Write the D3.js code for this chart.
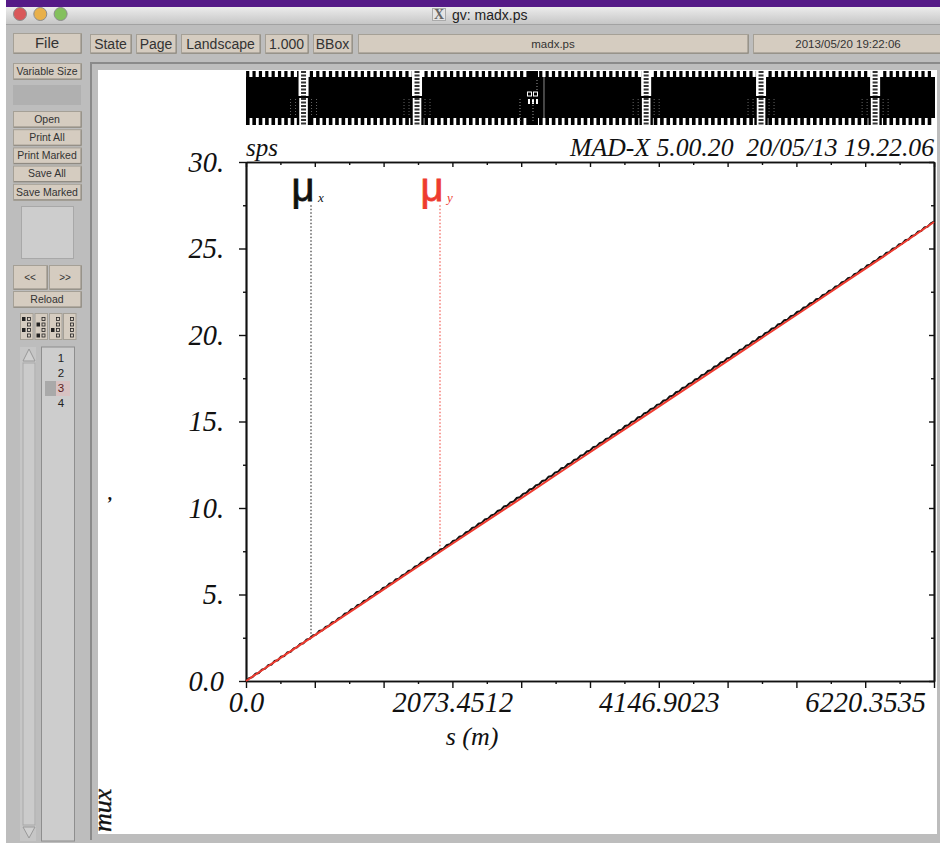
<!DOCTYPE html>
<html>
<head>
<meta charset="utf-8">
<title>gv: madx.ps</title>
<script src="https://cdn.jsdelivr.net/npm/d3@7"></script>
<style>
  html, body { margin: 0; padding: 0; background: #fff; }
  svg { display: block; }
  .ui { font-family: "Liberation Sans", sans-serif; fill: #333; text-anchor: middle; }
  .ps { font-family: "Liberation Serif", serif; font-style: italic; fill: #111; }
</style>
</head>
<body>
<div id="chart"></div>
<script>
// -------------------- DATA --------------------

const sMax = 6911.5;
const sStep = 32; // mux is read every half cell

const muxValues = [
  0, 0.17, 0.22, 0.42, 0.46, 0.66, 0.71, 0.91, 0.95, 1.16,
  1.20, 1.40, 1.44, 1.65, 1.69, 1.89, 1.94, 2.14, 2.18, 2.39,
  2.44, 2.64, 2.68, 2.89, 2.93, 3.13, 3.18, 3.38, 3.42, 3.62,
  3.69, 3.89, 3.93, 4.14, 4.18, 4.38, 4.43, 4.63, 4.67, 4.87,
  4.93, 5.13, 5.17, 5.38, 5.42, 5.62, 5.66, 5.87, 5.91, 6.11,
  6.17, 6.37, 6.41, 6.61, 6.66, 6.86, 6.90, 7.11, 7.15, 7.35,
  7.40, 7.61, 7.65, 7.85, 7.90, 8.10, 8.14, 8.35, 8.39, 8.59,
  8.64, 8.85, 8.89, 9.09, 9.14, 9.34, 9.38, 9.58, 9.63, 9.83,
  9.88, 10.09, 10.13, 10.33, 10.37, 10.58, 10.62, 10.82, 10.87, 11.07,
  11.11, 11.31, 11.36, 11.56, 11.60, 11.81, 11.85, 12.05, 12.10, 12.30,
  12.33, 12.53, 12.58, 12.78, 12.82, 13.03, 13.07, 13.27, 13.31, 13.52,
  13.55, 13.75, 13.80, 14.00, 14.04, 14.24, 14.29, 14.49, 14.53, 14.74,
  14.78, 14.98, 15.02, 15.23, 15.27, 15.47, 15.52, 15.72, 15.76, 15.96,
  16.00, 16.20, 16.24, 16.45, 16.49, 16.69, 16.74, 16.94, 16.98, 17.18,
  17.23, 17.43, 17.47, 17.68, 17.72, 17.92, 17.96, 18.17, 18.21, 18.41,
  18.45, 18.65, 18.69, 18.89, 18.94, 19.14, 19.18, 19.39, 19.43, 19.63,
  19.66, 19.87, 19.91, 20.11, 20.16, 20.36, 20.40, 20.61, 20.65, 20.85,
  20.88, 21.09, 21.13, 21.33, 21.38, 21.58, 21.62, 21.82, 21.87, 22.07,
  22.10, 22.31, 22.35, 22.55, 22.59, 22.80, 22.84, 23.04, 23.09, 23.29,
  23.32, 23.52, 23.57, 23.77, 23.81, 24.02, 24.06, 24.26, 24.31, 24.51,
  24.54, 24.74, 24.79, 24.99, 25.03, 25.24, 25.28, 25.48, 25.52, 25.73,
  25.77, 25.97, 26.02, 26.22, 26.26, 26.46, 26.55
];

const muyS = [0, 400, 800, 1200, 1600, 2000, 2400, 2800, 3200, 3600, 4000, 4400, 4800, 5200, 5600, 6000, 6400, 6911.5];
const muyValues = [0, 1.54, 3.06, 4.59, 6.13, 7.66, 9.18, 10.70, 12.24, 13.78, 15.30, 16.83, 18.36, 19.90, 21.43, 22.98, 24.52, 26.53];

const xMajorTicks = [0, 691.15, 1382.3, 2073.45, 2764.6, 3455.75, 4146.9, 4838.05, 5529.2, 6220.35, 6911.5];
const xMinorTicks = [345.57, 1036.72, 1727.87, 2419.02, 3110.17, 3801.32, 4492.47, 5183.62, 5874.77, 6565.92];
const xLabelled = { 0: "0.0", 2073.45: "2073.4512", 4146.9: "4146.9023", 6220.35: "6220.3535" };
const yMajorTicks = [0, 5, 10, 15, 20, 25, 30];
const yMinorTicks = [2.5, 7.5, 12.5, 17.5, 22.5, 27.5];
const yLabels = ["0.0", "5.", "10.", "15.", "20.", "25.", "30."];

// annotations: s of the dotted line, top and bottom value
const muLabels = [
  { name: "\u03BC", sub: "x", s: 653, top: 27.5, bottom: 2.54, color: "#111" },
  { name: "\u03BC", sub: "y", s: 1949, top: 27.5, bottom: 7.69, color: "#ee3b30" }
];

// lattice drawn in the strip above the plot
const cellS = [16, 80, 144, 208, 272, 336, 400, 464, 528, 592, 656, 720, 784, 848, 912, 976, 1040, 1104,
  1168, 1232, 1296, 1360, 1424, 1488, 1552, 1616, 1680, 1744, 1808, 1872, 1936, 2000, 2064, 2128, 2192, 2256,
  2320, 2384, 2448, 2512, 2576, 2640, 2704, 2768, 2832, 2896, 2960, 3024, 3088, 3152, 3216, 3280, 3344, 3408,
  3472, 3536, 3600, 3664, 3728, 3792, 3856, 3920, 3984, 4048, 4112, 4176, 4240, 4304, 4368, 4432, 4496, 4560,
  4624, 4688, 4752, 4816, 4880, 4944, 5008, 5072, 5136, 5200, 5264, 5328, 5392, 5456, 5520, 5584, 5648, 5712,
  5776, 5840, 5904, 5968, 6032, 6096, 6160, 6224, 6288, 6352, 6416, 6480, 6544, 6608, 6672, 6736, 6800, 6864];
const straightS = [578, 1718, 4020, 5174, 6320];
const specialS = [2883];

// gv window labels
const topButtons = ["State", "Page", "Landscape", "1.000", "BBox", "madx.ps", "2013/05/20 19:22:06"];
const sideButtons = ["Open", "Print All", "Print Marked", "Save All", "Save Marked"];
const pageNumbers = ["1", "2", "3", "4"];

// -------------------- SVG --------------------

const width = 940;
const height = 843;

const svg = d3.select("#chart").append("svg")
  .attr("width", width)
  .attr("height", height);

const defs = svg.append("defs");
const titleGrad = defs.append("linearGradient").attr("id", "titleGrad").attr("x2", 0).attr("y2", 1);
titleGrad.append("stop").attr("offset", 0).attr("stop-color", "#ececec");
titleGrad.append("stop").attr("offset", 1).attr("stop-color", "#c6c6c6");

function box(x, y, w, h, fill, stroke) {
  return svg.append("rect")
    .attr("x", x).attr("y", y).attr("width", w).attr("height", h)
    .attr("fill", fill).attr("stroke", stroke || "none");
}

function button(x, y, w, h, label, size) {
  box(x + 0.5, y + 0.5, w, h, "#d5ccc0", "#a5a096");
  svg.append("path")
    .attr("d", `M${x + 1},${y + h} H${x + w} V${y + 1}`)
    .attr("fill", "none").attr("stroke", "#8a867e");
  svg.append("text").attr("class", "ui")
    .attr("x", x + w / 2).attr("y", y + h / 2 + size * 0.36)
    .attr("font-size", size).text(label);
}

// -------------------- WINDOW --------------------

box(6, 0, 934, 843, "#bdbdbd");
box(6, 0, 934, 7, "#551a87");
box(6, 7, 934, 17, "url(#titleGrad)");
box(6, 24, 934, 1, "#a2a2a2");

svg.selectAll(".light")
  .data(["#d9585a", "#e8b04a", "#84c05d"])
  .enter().append("circle")
  .attr("class", "light")
  .attr("cx", (d, i) => 20 + i * 20.3)
  .attr("cy", 14)
  .attr("r", 6.5)
  .attr("fill", d => d)
  .attr("stroke", "#8c8c8c");

box(432.5, 8.5, 13, 12, "#e4e4e4", "#aaa");
svg.append("text").attr("x", 439).attr("y", 19).attr("text-anchor", "middle")
  .attr("font-family", "Liberation Serif").attr("font-size", 14).attr("font-weight", "bold")
  .attr("fill", "#666").text("X");
svg.append("text").attr("x", 452).attr("y", 20)
  .attr("font-family", "Liberation Sans").attr("font-size", 14).attr("fill", "#222").text("gv: madx.ps");

button(13, 33, 68, 20, "File", 15);
const topSlots = [[90, 41], [136, 40], [181, 79], [265, 43], [313, 39], [358, 390], [753, 190]];
topButtons.forEach((label, i) => {
  button(topSlots[i][0], 34, topSlots[i][1], 19, label, i < 5 ? 14 : 11.5);
});
button(13, 63, 68, 16, "Variable Size", 10.5);
box(13, 85, 68, 20, "#b0b0b0");

sideButtons.forEach((label, i) => button(13, 111 + i * 18.2, 68, 16, label, 10.5));

box(21.5, 206.5, 52, 52, "#cdcdcd", "#a8a8a8");
button(13, 265, 34, 24, "<<", 10);
button(49, 265, 32, 24, ">>", 10);
button(13, 291, 68, 16, "Reload", 10.5);

// page mark buttons
[20, 34.5, 49, 63].forEach((x, col) => {
  box(x + 0.5, 313.5, 12.5, 26, "#d5ccc0", "#a5a096");
  [0, 1, 2, 3].forEach(row => {
    box(x + 7.5, 317.5 + row * 5.5, 3, 3, "#d5ccc0", "#222").attr("stroke-width", 0.8);
    const marked = (col === 0 && (row === 0 || row === 2)) || (col === 1 && (row === 1 || row === 3)) || (col === 2 && row === 2);
    if (marked) box(x + 2, 317 + row * 5.5, 3.5, 4, "#222");
  });
});

// scrollbar and page list
box(20, 347, 16, 494, "#c6c6c6");
box(23, 363, 12, 462, "#cbcbcb", "#a9a9a9");
svg.append("path").attr("d", "M29,349 L23,361 H35 Z").attr("fill", "#d0d0d0").attr("stroke", "#999");
svg.append("path").attr("d", "M29,838 L23,827 H35 Z").attr("fill", "#d0d0d0").attr("stroke", "#999");
box(41.5, 347, 33, 494, "#cdcdcd", "#8e8e8e");
box(45, 381, 11, 15, "#a9a9a9");
box(56, 381, 14, 15, "#d8c2c2");
svg.selectAll(".pageNo")
  .data(pageNumbers)
  .enter().append("text")
  .attr("class", "ui pageNo")
  .attr("x", 61)
  .attr("y", (d, i) => 361.5 + i * 15.3)
  .attr("font-size", 11.5)
  .style("fill", d => d === "3" ? "#5a1a1a" : "#222")
  .text(d => d);

// paper and frame
box(90, 62, 850, 778, "#bdbdbd");
box(90, 62, 2, 778, "#8a8a8a");
box(90, 62, 850, 2, "#8a8a8a");
box(98, 70, 839, 764, "#fff");

// -------------------- SCALES --------------------

const x = d3.scaleLinear().domain([0, sMax]).range([246, 934]);
const y = d3.scaleLinear().domain([0, 30]).range([681, 162]);

// -------------------- LATTICE STRIP --------------------

const stripTop = 71, bandTop = 77, bandMid = 97, bandBottom = 118, stripBottom = 125;

box(x(0), bandTop, x(sMax) - x(0) + 1, bandBottom - bandTop, "#000");

svg.selectAll(".toothTop")
  .data(cellS)
  .enter().append("rect")
  .attr("class", "toothTop")
  .attr("x", d => x(d) - 1.5)
  .attr("y", stripTop)
  .attr("width", 3.2)
  .attr("height", bandTop - stripTop)
  .attr("fill", "#000");

svg.selectAll(".toothBottom")
  .data(cellS)
  .enter().append("rect")
  .attr("class", "toothBottom")
  .attr("x", d => x(d) - 1.6)
  .attr("y", bandBottom)
  .attr("width", 3.6)
  .attr("height", stripBottom - bandBottom)
  .attr("fill", "#000");

straightS.forEach(s => {
  const cx = x(s);
  // soft dots either side, lower half only
  [-13, -8, 8, 13].forEach(dx => {
    svg.append("line")
      .attr("x1", cx + dx).attr("x2", cx + dx)
      .attr("y1", bandMid + 2).attr("y2", bandBottom - 1)
      .attr("stroke", "#666").attr("stroke-dasharray", "1 2");
  });
  box(cx - 5, stripTop, 10, stripBottom - stripTop, "#fff");
  svg.append("line")
    .attr("x1", cx).attr("x2", cx)
    .attr("y1", stripTop).attr("y2", bandMid)
    .attr("stroke", "#333").attr("stroke-width", 5).attr("stroke-dasharray", "2 1.5");
  [-5.5, 5.5].forEach(dx => box(cx + dx - 1.2, bandMid, 2.4, stripBottom - bandMid, "#000"));
  box(cx - 6, bandMid - 1, 12, 2, "#000");
  svg.append("line")
    .attr("x1", cx).attr("x2", cx)
    .attr("y1", bandMid + 1).attr("y2", stripBottom)
    .attr("stroke", "#333").attr("stroke-width", 5).attr("stroke-dasharray", "2 1.5");
});

specialS.forEach(s => {
  const cx = x(s);
  box(cx - 6, stripTop, 11, stripBottom - stripTop, "#000");
  box(cx + 10.5, stripTop + 6, 1, bandBottom - stripTop - 6, "#8a8a8a");
  [-3.5, 2.5].forEach(dx => {
    box(cx + dx - 2, 92, 4, 4, "#000").attr("stroke", "#fff");
  });
  [-4, 0, 4].forEach(dx => {
    box(cx + dx - 1, 99, 2, 5, "#fff");
  });
  [-13, 0, 4].forEach(dx => {
    svg.append("line")
      .attr("x1", cx + dx).attr("x2", cx + dx)
      .attr("y1", dx === 4 ? 80 : 99).attr("y2", dx === 4 ? 92 : 122)
      .attr("stroke", "#999").attr("stroke-dasharray", "1 2");
  });
});

// -------------------- AXES --------------------

function styleAxis(g) {
  g.selectAll("line").attr("stroke", "#111").attr("stroke-width", 1.4);
  g.selectAll("path").attr("stroke", "#111").attr("stroke-width", 1.7);
}

const bottomMajor = svg.append("g").attr("transform", `translate(0,${y(0)})`)
  .call(d3.axisBottom(x).tickValues(xMajorTicks).tickSizeOuter(0).tickSizeInner(7).tickPadding(4)
    .tickFormat(d => xLabelled[d] || ""));
const bottomMinor = svg.append("g").attr("transform", `translate(0,${y(0)})`)
  .call(d3.axisBottom(x).tickValues(xMinorTicks).tickSizeOuter(0).tickSizeInner(3).tickFormat(""));
const topMajor = svg.append("g").attr("transform", `translate(0,${y(30)})`)
  .call(d3.axisTop(x).tickValues(xMajorTicks).tickSizeOuter(0).tickSizeInner(-5).tickFormat(""));
const topMinor = svg.append("g").attr("transform", `translate(0,${y(30)})`)
  .call(d3.axisTop(x).tickValues(xMinorTicks).tickSizeOuter(0).tickSizeInner(-3).tickFormat(""));

const leftMajor = svg.append("g").attr("transform", `translate(${x(0)},0)`)
  .call(d3.axisLeft(y).tickValues(yMajorTicks).tickSizeOuter(0).tickSizeInner(7).tickPadding(15)
    .tickFormat((d, i) => yLabels[i]));
const leftMinor = svg.append("g").attr("transform", `translate(${x(0)},0)`)
  .call(d3.axisLeft(y).tickValues(yMinorTicks).tickSizeOuter(0).tickSizeInner(3).tickFormat(""));
const rightMajor = svg.append("g").attr("transform", `translate(${x(sMax)},0)`)
  .call(d3.axisRight(y).tickValues(yMajorTicks).tickSizeOuter(0).tickSizeInner(-5).tickFormat(""));
const rightMinor = svg.append("g").attr("transform", `translate(${x(sMax)},0)`)
  .call(d3.axisRight(y).tickValues(yMinorTicks).tickSizeOuter(0).tickSizeInner(-3).tickFormat(""));

[bottomMajor, topMajor, leftMajor, rightMajor, bottomMinor, topMinor, leftMinor, rightMinor].forEach(styleAxis);

[bottomMajor, leftMajor].forEach(g => {
  g.selectAll("text")
    .attr("class", "ps")
    .attr("font-size", 28.4)
    .attr("font-family", "Liberation Serif")
    .attr("font-style", "italic")
    .attr("fill", "#111");
});
bottomMajor.selectAll("text").attr("dy", "0.72em");
leftMajor.selectAll("text").attr("dy", "0.32em");

// -------------------- CURVES --------------------

const line = d3.line().x(d => x(d.s)).y(d => y(d.v));

const muxPoints = muxValues.map((v, i) => ({ s: Math.min(i * sStep, sMax), v: v }));
const muyPoints = muyValues.map((v, i) => ({ s: muyS[i], v: v }));

svg.append("path").datum(muxPoints)
  .attr("d", line).attr("fill", "none")
  .attr("stroke", "#111").attr("stroke-width", 2);

svg.append("path").datum(muyPoints)
  .attr("d", line).attr("fill", "none")
  .attr("stroke", "#ee3b30").attr("stroke-width", 2);

// -------------------- LABELS --------------------

svg.selectAll(".muLine")
  .data(muLabels)
  .enter().append("line")
  .attr("class", "muLine")
  .attr("x1", d => x(d.s)).attr("x2", d => x(d.s))
  .attr("y1", d => y(d.top)).attr("y2", d => y(d.bottom))
  .attr("stroke", d => d.color).attr("stroke-dasharray", "1.5 2");

svg.selectAll(".muName")
  .data(muLabels)
  .enter().append("text")
  .attr("class", "muName")
  .attr("x", d => x(d.s) - 8)
  .attr("y", 201)
  .attr("text-anchor", "middle")
  .attr("font-family", "Liberation Sans")
  .attr("font-size", 40)
  .attr("fill", d => d.color)
  .attr("stroke", d => d.color)
  .attr("stroke-width", 0.8)
  .text(d => d.name);

svg.selectAll(".muSub")
  .data(muLabels)
  .enter().append("text")
  .attr("class", "ps muSub")
  .attr("x", d => x(d.s) + 7)
  .attr("y", 202)
  .attr("font-size", 13)
  .style("fill", d => d.color)
  .text(d => d.sub);

svg.append("text").attr("class", "ps")
  .attr("x", 934).attr("y", 156).attr("text-anchor", "end")
  .attr("font-size", 25.7)
  .text("MAD-X 5.00.20\u00A0\u00A020/05/13 19.22.06");
svg.append("text").attr("class", "ps")
  .attr("x", 246).attr("y", 156).attr("font-size", 25).text("sps");
svg.append("text").attr("class", "ps")
  .attr("x", 472).attr("y", 745).attr("text-anchor", "middle").attr("font-size", 26).text("s (m)");
svg.append("text").attr("class", "ps")
  .attr("transform", "translate(111,832) rotate(-90)")
  .attr("font-size", 26).attr("stroke", "#111").attr("stroke-width", 0.4).text("mux");
svg.append("text").attr("class", "ps")
  .attr("x", 106).attr("y", 510).attr("font-size", 18).attr("font-weight", "bold").text("\u2019");
</script>
</body>
</html>
